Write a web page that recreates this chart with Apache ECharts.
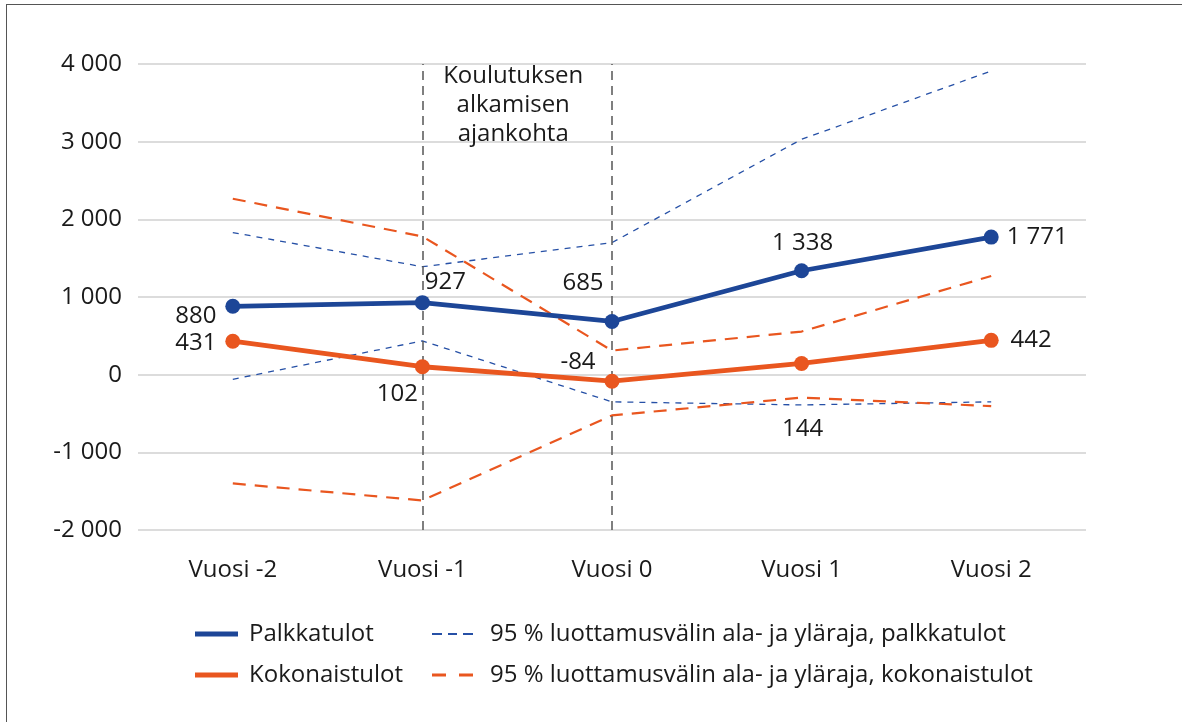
<!DOCTYPE html>
<html>
<head>
<meta charset="utf-8">
<script src="https://cdn.jsdelivr.net/npm/echarts@6/dist/echarts.min.js"></script>
<style>
  html, body { margin: 0; padding: 0; background: #fff; }
  #wrap { position: relative; width: 1182px; height: 722px; overflow: hidden; }
  #frame { position: absolute; left: 6px; top: 4px; width: 1300px; height: 800px; border: 1.5px solid #555; box-sizing: border-box; }
  #chart { position: absolute; left: 0; top: 0; width: 1182px; height: 722px; }
</style>
</head>
<body>
<div id="wrap">
  <div id="frame"></div>
  <div id="chart"></div>
</div>
<script>
// categories and values
var vuodet = ["Vuosi -2", "Vuosi -1", "Vuosi 0", "Vuosi 1", "Vuosi 2"];
var palkkatulot = [880, 927, 685, 1338, 1771];
var kokonaistulot = [431, 102, -84, 144, 442];
var palkkaYla = [1830, 1390, 1700, 3030, 3910];
var palkkaAla = [-60, 435, -350, -390, -350];
var kokoYla = [2265, 1780, 310, 555, 1270];
var kokoAla = [-1400, -1620, -525, -295, -405];

// label offsets from the point (px)
var palkkaLabelOffset = [[-37, 10], [23, -21], [-29, -38], [1, -28], [46, 0]];
var kokoLabelOffset = [[-37, 2], [-25, 27], [-34, -19], [1, 66], [40, 0]];

var BLUE = "#1d4697";
var BLUE_CI = "#2650a6";
var ORANGE = "#e9561f";
var TEXT = "#1a1a1a";
var FONT = "Open Sans";
var FS = 24;

function fmt(v) {
  return String(v).replace(/\B(?=(\d{3})+(?!\d))/g, " ");
}

function withLabels(values, offsets) {
  return values.map(function (v, i) {
    return { value: v, label: { offset: offsets[i] } };
  });
}

var chart = echarts.init(document.getElementById("chart"));

var mainLabel = {
  show: true,
  position: "inside",
  color: TEXT,
  fontFamily: FONT,
  fontSize: FS,
  formatter: function (p) { return fmt(p.value); }
};

var ciNames = [
  "95 % luottamusvälin ala- ja yläraja, palkkatulot",
  "95 % luottamusvälin ala- ja yläraja, kokonaistulot"
];

// dashed legend icons
var blueDash = "path://M0,0h10v2h-10z M16,0h9v2h-9z M31,0h10v2h-10z";
var orangeDash = "path://M0,0h14v3h-14z M27,0h14v3h-14z";

function legendItem(name, icon, left, top, w, h, pad) {
  return {
    left: left,
    top: top,
    itemWidth: w,
    itemHeight: h,
    selectedMode: false,
    textStyle: { fontSize: FS, color: TEXT, fontFamily: FONT, padding: [0, 0, 0, pad] },
    data: [{ name: name, icon: icon }]
  };
}

var option = {
  animation: false,
  textStyle: { fontFamily: FONT },
  grid: { left: 138, right: 96, top: 64, bottom: 192 },
  legend: [
    legendItem("Palkkatulot", "rect", 190, 617, 43, 5, 6),
    legendItem("Kokonaistulot", "rect", 190, 658, 43, 5, 6),
    legendItem(ciNames[0], blueDash, 427, 617, 41, 2, 12),
    legendItem(ciNames[1], orangeDash, 427, 658, 41, 3, 12)
  ],
  xAxis: {
    type: "category",
    data: vuodet,
    boundaryGap: true,
    axisLine: { show: false },
    axisTick: { show: false },
    axisLabel: { color: TEXT, fontSize: FS, fontFamily: FONT, margin: 28 }
  },
  yAxis: {
    type: "value",
    min: -2000,
    max: 4000,
    interval: 1000,
    axisLine: { show: false },
    axisTick: { show: false },
    splitLine: { lineStyle: { color: "#d0d0d0", width: 1.5 } },
    axisLabel: { color: TEXT, fontSize: FS, fontFamily: FONT, margin: 16, formatter: fmt }
  },
  series: [
    {
      name: ciNames[0],
      type: "line",
      data: palkkaYla,
      symbol: "none",
      lineStyle: { color: BLUE_CI, width: 1.3, type: [6, 6] },
      itemStyle: { color: BLUE_CI },
      z: 2,
      markLine: {
        silent: true,
        symbol: "none",
        label: { show: false },
        lineStyle: { color: "#555", width: 1.5, type: [9, 6] },
        data: [{ xAxis: "Vuosi -1" }, { xAxis: "Vuosi 0" }]
      },
      markArea: {
        silent: true,
        itemStyle: { color: "rgba(0,0,0,0)" },
        label: {
          show: true,
          position: "insideTop",
          distance: 0,
          offset: [-4, -2],
          color: TEXT,
          fontSize: FS,
          fontFamily: FONT,
          lineHeight: 29,
          align: "center"
        },
        data: [[
          { xAxis: "Vuosi -1", name: "Koulutuksen\nalkamisen\najankohta" },
          { xAxis: "Vuosi 0" }
        ]]
      }
    },
    {
      name: ciNames[0],
      type: "line",
      data: palkkaAla,
      symbol: "none",
      lineStyle: { color: BLUE_CI, width: 1.3, type: [6, 6] },
      itemStyle: { color: BLUE_CI },
      z: 2
    },
    {
      name: ciNames[1],
      type: "line",
      data: kokoYla,
      symbol: "none",
      lineStyle: { color: ORANGE, width: 2.2, type: [13, 9] },
      itemStyle: { color: ORANGE },
      z: 2
    },
    {
      name: ciNames[1],
      type: "line",
      data: kokoAla,
      symbol: "none",
      lineStyle: { color: ORANGE, width: 2.2, type: [13, 9] },
      itemStyle: { color: ORANGE },
      z: 2
    },
    {
      name: "Palkkatulot",
      type: "line",
      data: withLabels(palkkatulot, palkkaLabelOffset),
      symbol: "circle",
      symbolSize: 15,
      lineStyle: { color: BLUE, width: 4.8 },
      itemStyle: { color: BLUE },
      label: mainLabel,
      z: 5
    },
    {
      name: "Kokonaistulot",
      type: "line",
      data: withLabels(kokonaistulot, kokoLabelOffset),
      symbol: "circle",
      symbolSize: 15,
      lineStyle: { color: ORANGE, width: 4.8 },
      itemStyle: { color: ORANGE },
      label: mainLabel,
      z: 5
    }
  ]
};

chart.setOption(option);
</script>
</body>
</html>
